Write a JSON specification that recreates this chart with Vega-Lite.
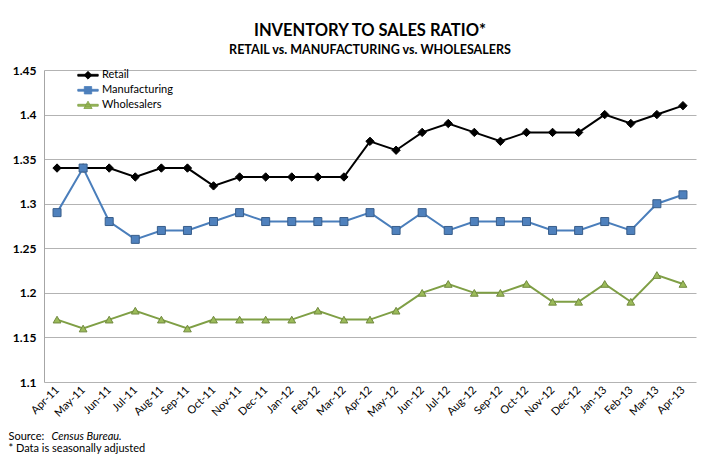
{
  "$schema": "https://vega.github.io/schema/vega-lite/v6.json",
  "autosize": "none",
  "width": 652,
  "height": 312,
  "padding": {"left": 44, "top": 70, "right": 14, "bottom": 74},
  "background": "white",
  "config": {
    "font": "Lato",
    "view": {"stroke": null},
    "axis": {"labelFont": "Lato", "titleFont": "Lato"}
  },
  "title": {
    "text": "INVENTORY TO SALES RATIO*",
    "subtitle": "RETAIL vs. MANUFACTURING vs. WHOLESALERS",
    "font": "Lato",
    "fontSize": 16.5,
    "fontWeight": "bold",
    "color": "#000000",
    "subtitleFont": "Lato",
    "subtitleFontSize": 12.5,
    "subtitleFontWeight": "bold",
    "subtitleColor": "#000000",
    "subtitlePadding": 4,
    "anchor": "middle",
    "offset": 8
  },
  "data": {
    "values": [
      {"month": "Apr-11", "series": "Retail", "value": 1.34},
      {"month": "May-11", "series": "Retail", "value": 1.34},
      {"month": "Jun-11", "series": "Retail", "value": 1.34},
      {"month": "Jul-11", "series": "Retail", "value": 1.33},
      {"month": "Aug-11", "series": "Retail", "value": 1.34},
      {"month": "Sep-11", "series": "Retail", "value": 1.34},
      {"month": "Oct-11", "series": "Retail", "value": 1.32},
      {"month": "Nov-11", "series": "Retail", "value": 1.33},
      {"month": "Dec-11", "series": "Retail", "value": 1.33},
      {"month": "Jan-12", "series": "Retail", "value": 1.33},
      {"month": "Feb-12", "series": "Retail", "value": 1.33},
      {"month": "Mar-12", "series": "Retail", "value": 1.33},
      {"month": "Apr-12", "series": "Retail", "value": 1.37},
      {"month": "May-12", "series": "Retail", "value": 1.36},
      {"month": "Jun-12", "series": "Retail", "value": 1.38},
      {"month": "Jul-12", "series": "Retail", "value": 1.39},
      {"month": "Aug-12", "series": "Retail", "value": 1.38},
      {"month": "Sep-12", "series": "Retail", "value": 1.37},
      {"month": "Oct-12", "series": "Retail", "value": 1.38},
      {"month": "Nov-12", "series": "Retail", "value": 1.38},
      {"month": "Dec-12", "series": "Retail", "value": 1.38},
      {"month": "Jan-13", "series": "Retail", "value": 1.40},
      {"month": "Feb-13", "series": "Retail", "value": 1.39},
      {"month": "Mar-13", "series": "Retail", "value": 1.40},
      {"month": "Apr-13", "series": "Retail", "value": 1.41},
      {"month": "Apr-11", "series": "Manufacturing", "value": 1.29},
      {"month": "May-11", "series": "Manufacturing", "value": 1.34},
      {"month": "Jun-11", "series": "Manufacturing", "value": 1.28},
      {"month": "Jul-11", "series": "Manufacturing", "value": 1.26},
      {"month": "Aug-11", "series": "Manufacturing", "value": 1.27},
      {"month": "Sep-11", "series": "Manufacturing", "value": 1.27},
      {"month": "Oct-11", "series": "Manufacturing", "value": 1.28},
      {"month": "Nov-11", "series": "Manufacturing", "value": 1.29},
      {"month": "Dec-11", "series": "Manufacturing", "value": 1.28},
      {"month": "Jan-12", "series": "Manufacturing", "value": 1.28},
      {"month": "Feb-12", "series": "Manufacturing", "value": 1.28},
      {"month": "Mar-12", "series": "Manufacturing", "value": 1.28},
      {"month": "Apr-12", "series": "Manufacturing", "value": 1.29},
      {"month": "May-12", "series": "Manufacturing", "value": 1.27},
      {"month": "Jun-12", "series": "Manufacturing", "value": 1.29},
      {"month": "Jul-12", "series": "Manufacturing", "value": 1.27},
      {"month": "Aug-12", "series": "Manufacturing", "value": 1.28},
      {"month": "Sep-12", "series": "Manufacturing", "value": 1.28},
      {"month": "Oct-12", "series": "Manufacturing", "value": 1.28},
      {"month": "Nov-12", "series": "Manufacturing", "value": 1.27},
      {"month": "Dec-12", "series": "Manufacturing", "value": 1.27},
      {"month": "Jan-13", "series": "Manufacturing", "value": 1.28},
      {"month": "Feb-13", "series": "Manufacturing", "value": 1.27},
      {"month": "Mar-13", "series": "Manufacturing", "value": 1.30},
      {"month": "Apr-13", "series": "Manufacturing", "value": 1.31},
      {"month": "Apr-11", "series": "Wholesalers", "value": 1.17},
      {"month": "May-11", "series": "Wholesalers", "value": 1.16},
      {"month": "Jun-11", "series": "Wholesalers", "value": 1.17},
      {"month": "Jul-11", "series": "Wholesalers", "value": 1.18},
      {"month": "Aug-11", "series": "Wholesalers", "value": 1.17},
      {"month": "Sep-11", "series": "Wholesalers", "value": 1.16},
      {"month": "Oct-11", "series": "Wholesalers", "value": 1.17},
      {"month": "Nov-11", "series": "Wholesalers", "value": 1.17},
      {"month": "Dec-11", "series": "Wholesalers", "value": 1.17},
      {"month": "Jan-12", "series": "Wholesalers", "value": 1.17},
      {"month": "Feb-12", "series": "Wholesalers", "value": 1.18},
      {"month": "Mar-12", "series": "Wholesalers", "value": 1.17},
      {"month": "Apr-12", "series": "Wholesalers", "value": 1.17},
      {"month": "May-12", "series": "Wholesalers", "value": 1.18},
      {"month": "Jun-12", "series": "Wholesalers", "value": 1.20},
      {"month": "Jul-12", "series": "Wholesalers", "value": 1.21},
      {"month": "Aug-12", "series": "Wholesalers", "value": 1.20},
      {"month": "Sep-12", "series": "Wholesalers", "value": 1.20},
      {"month": "Oct-12", "series": "Wholesalers", "value": 1.21},
      {"month": "Nov-12", "series": "Wholesalers", "value": 1.19},
      {"month": "Dec-12", "series": "Wholesalers", "value": 1.19},
      {"month": "Jan-13", "series": "Wholesalers", "value": 1.21},
      {"month": "Feb-13", "series": "Wholesalers", "value": 1.19},
      {"month": "Mar-13", "series": "Wholesalers", "value": 1.22},
      {"month": "Apr-13", "series": "Wholesalers", "value": 1.21}
    ]
  },
  "resolve": {"axis": {"x": "independent"}},
  "layer": [
    {
      "mark": {"type": "line", "strokeWidth": 2},
      "encoding": {
        "x": {
          "field": "month", "type": "ordinal", "sort": null,
          "scale": {"type": "point", "padding": 0.5},
          "axis": {
            "orient": "bottom",
            "labelAngle": -45,
            "labelAlign": "right",
            "labelBaseline": "middle",
            "labelFontSize": 11,
            "labelColor": "#000000",
            "labelPadding": 6,
            "ticks": false,
            "domain": false,
            "grid": false,
            "title": ["Source: ", "* Data is seasonally adjusted"],
            "titleFontSize": 11,
            "titleFontWeight": "normal",
            "titleColor": "#000000",
            "titleAlign": "left",
            "titleBaseline": "top",
            "titleAngle": 0,
            "titleLineHeight": 12,
            "titleX": -36,
            "titleY": 48
          }
        },
        "y": {
          "field": "value", "type": "quantitative",
          "scale": {"domain": [1.1, 1.45], "nice": false, "zero": false},
          "axis": {
            "values": [1.1, 1.15, 1.2, 1.25, 1.3, 1.35, 1.4, 1.45],
            "format": ".2~f",
            "labelFontSize": 12,
            "labelFontWeight": "bold",
            "labelColor": "#000000",
            "labelPadding": 8,
            "ticks": false,
            "domain": true,
            "domainColor": "#A6A6A6",
            "grid": true,
            "gridColor": "#B3B3B3",
            "title": null
          }
        },
        "color": {
          "field": "series", "type": "nominal",
          "scale": {"domain": ["Retail", "Manufacturing", "Wholesalers"], "range": ["#000000", "#4A7EBB", "#7F9F45"]},
          "legend": {
            "orient": "none",
            "legendX": 33,
            "legendY": -2,
            "title": null,
            "labelFont": "Lato",
            "labelFontSize": 11,
            "labelColor": "#000000",
            "labelOffset": 3,
            "symbolSize": 420,
            "clipHeight": 14.5,
            "rowPadding": 0,
            "encode": {
              "symbols": {
                "update": {
                  "shape": {"signal": "datum.value === 'Retail' ? 'M-1,-0.09L1,-0.09L1,0.09L-1,0.09ZM0,-0.38L0.38,0L0,0.38L-0.38,0Z' : datum.value === 'Manufacturing' ? 'M-1,-0.09L1,-0.09L1,0.09L-1,0.09ZM-0.36,-0.36L0.36,-0.36L0.36,0.36L-0.36,0.36Z' : 'M-1,-0.09L1,-0.09L1,0.09L-1,0.09ZM0,-0.4L0.4,0.32L-0.4,0.32Z'"},
                  "fill": {"signal": "datum.value === 'Retail' ? '#000000' : datum.value === 'Manufacturing' ? '#4F81BD' : '#9BBB59'"},
                  "stroke": {"signal": "datum.value === 'Retail' ? '#000000' : datum.value === 'Manufacturing' ? '#4A7EBB' : '#7F9F45'"},
                  "strokeWidth": {"value": 0.8},
                  "opacity": {"value": 1}
                }
              }
            }
          }
        }
      }
    },
    {
      "transform": [{"filter": "datum.series === 'Retail'"}],
      "mark": {"type": "point", "shape": "diamond", "filled": true, "size": 70, "fill": "#000000", "stroke": "#000000", "strokeWidth": 1, "opacity": 1},
      "encoding": {
        "x": {
          "field": "month", "type": "ordinal", "sort": null,
          "scale": {"type": "point", "padding": 0.5},
          "axis": {
            "orient": "top",
            "labels": false,
            "ticks": false,
            "domain": false,
            "grid": false,
            "title": "Census Bureau.",
            "titleFontSize": 11,
            "titleFontWeight": "normal",
            "titleFontStyle": "italic",
            "titleColor": "#000000",
            "titleAlign": "left",
            "titleBaseline": "top",
            "titleX": 7,
            "titleY": 360
          }
        },
        "y": {"field": "value", "type": "quantitative"}
      }
    },
    {
      "transform": [{"filter": "datum.series === 'Manufacturing'"}],
      "mark": {"type": "point", "shape": "square", "filled": true, "size": 64, "fill": "#4F81BD", "stroke": "#385D8A", "strokeWidth": 1, "opacity": 1},
      "encoding": {
        "x": {"field": "month", "type": "ordinal", "sort": null, "scale": {"type": "point", "padding": 0.5}, "axis": null},
        "y": {"field": "value", "type": "quantitative"}
      }
    },
    {
      "transform": [{"filter": "datum.series === 'Wholesalers'"}],
      "mark": {"type": "point", "shape": "triangle-up", "filled": true, "size": 60, "fill": "#9BBB59", "stroke": "#71893F", "strokeWidth": 1, "opacity": 1},
      "encoding": {
        "x": {"field": "month", "type": "ordinal", "sort": null, "scale": {"type": "point", "padding": 0.5}, "axis": null},
        "y": {"field": "value", "type": "quantitative"}
      }
    }
  ]
}
